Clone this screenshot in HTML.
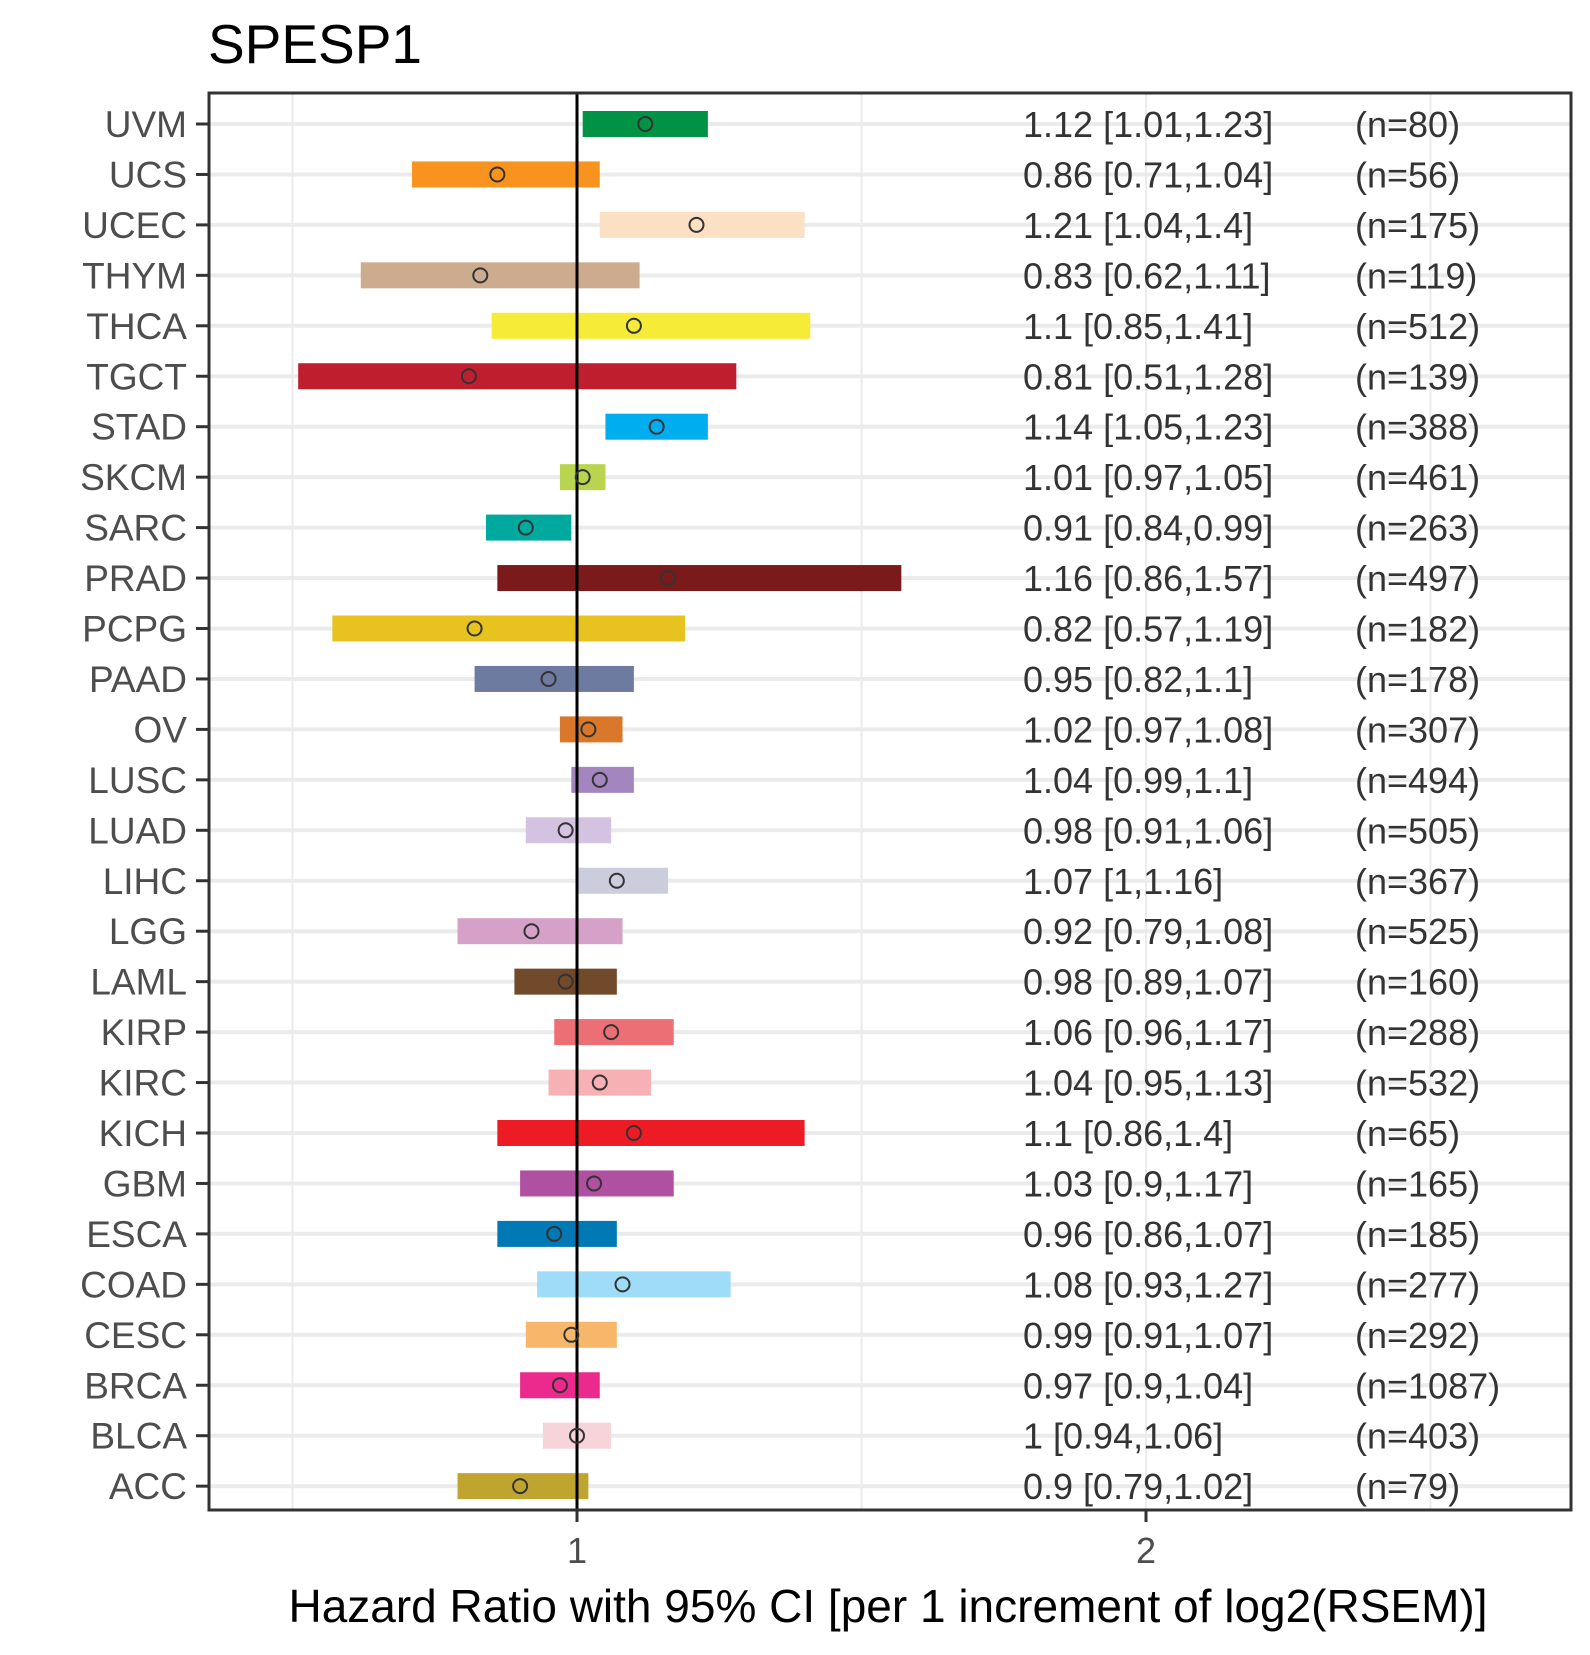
<!DOCTYPE html>
<html><head><meta charset="utf-8"><style>
body{margin:0;background:#fff;}
svg text{font-family:"Liberation Sans",Arial,sans-serif;}
</style></head><body>
<svg id="chart" width="1590" height="1650" viewBox="0 0 1590 1650" xmlns="http://www.w3.org/2000/svg">
<text x="208" y="63" font-size="55" fill="#000">SPESP1</text>
<g id="plot"></g>
<text x="888" y="1622" font-size="46" fill="#000" text-anchor="middle">Hazard Ratio with 95% CI [per 1 increment of log2(RSEM)]</text>
</svg>
<script>
const cancers=["UVM","UCS","UCEC","THYM","THCA","TGCT","STAD","SKCM","SARC","PRAD","PCPG","PAAD","OV","LUSC","LUAD","LIHC","LGG","LAML","KIRP","KIRC","KICH","GBM","ESCA","COAD","CESC","BRCA","BLCA","ACC"];
const hr=[1.12,0.86,1.21,0.83,1.1,0.81,1.14,1.01,0.91,1.16,0.82,0.95,1.02,1.04,0.98,1.07,0.92,0.98,1.06,1.04,1.1,1.03,0.96,1.08,0.99,0.97,1,0.9];
const lo=[1.01,0.71,1.04,0.62,0.85,0.51,1.05,0.97,0.84,0.86,0.57,0.82,0.97,0.99,0.91,1,0.79,0.89,0.96,0.95,0.86,0.9,0.86,0.93,0.91,0.9,0.94,0.79];
const hi=[1.23,1.04,1.4,1.11,1.41,1.28,1.23,1.05,0.99,1.57,1.19,1.1,1.08,1.1,1.06,1.16,1.08,1.07,1.17,1.13,1.4,1.17,1.07,1.27,1.07,1.04,1.06,1.02];
const ns=[80,56,175,119,512,139,388,461,263,497,182,178,307,494,505,367,525,160,288,532,65,165,185,277,292,1087,403,79];
const colors=["#009245","#F7931E","#FBE0C3","#CDAB8F","#F6EB36","#BE1E2D","#00AEEF","#B9D44F","#00A99D","#7B1A1A","#E6C31E","#6E7BA0","#D9782A","#A386BF","#D3C3E0","#CBCCDC","#D6A1C9","#704A2A","#EB6F75","#F7B0B3","#ED1C24","#B050A0","#0079B5","#9EDCF7","#F7B76A","#EC2A8E","#F7D3DA","#BFA430"];
const xTicks=[1,2];
const grid=[0.5,1,1.5,2,2.5];
const L=209,R=1571,T=93,B=1510;
const xs=v=>577+(v-1)*569;
const ys=i=>124+i*50.45;
const NS="http://www.w3.org/2000/svg";
const g=document.getElementById('plot');
function mk(t,a,p){const e=document.createElementNS(NS,t);for(const k in a)e.setAttribute(k,a[k]);(p||g).appendChild(e);return e;}
grid.forEach(v=>{const e=mk('line',{x1:xs(v),x2:xs(v),y1:T,y2:B,stroke:'#ebebeb','stroke-width':2});

});
cancers.forEach((c,i)=>{const e=mk('line',{x1:L,x2:R,y1:ys(i),y2:ys(i),stroke:'#ebebeb','stroke-width':4});

});
cancers.forEach((c,i)=>{
const b=mk('rect',{x:xs(lo[i]),y:ys(i)-13,width:xs(hi[i])-xs(lo[i]),height:26,fill:colors[i]});


});
const vl=mk('line',{x1:xs(1),x2:xs(1),y1:T,y2:B,stroke:'#000','stroke-width':3});


cancers.forEach((c,i)=>{
const p=mk('circle',{cx:xs(hr[i]),cy:ys(i),r:7,fill:'none',stroke:'#333','stroke-width':2});


const t=mk('text',{x:1023,y:ys(i)+13,'font-size':36,fill:'#333'});t.textContent=hr[i]+' ['+lo[i]+','+hi[i]+']';


const n=mk('text',{x:1355,y:ys(i)+13,'font-size':36,fill:'#333'});n.textContent='(n='+ns[i]+')';


const lb=mk('text',{x:187,y:ys(i)+13,'font-size':37,fill:'#4d4d4d','text-anchor':'end'});lb.textContent=c;


const tk=mk('line',{x1:196,x2:209,y1:ys(i),y2:ys(i),stroke:'#333','stroke-width':3});


});
xTicks.forEach(v=>{
const tk=mk('line',{x1:xs(v),x2:xs(v),y1:B,y2:B+12,stroke:'#333','stroke-width':3});


const t=mk('text',{x:xs(v),y:B+53,'font-size':36,fill:'#4d4d4d','text-anchor':'middle'});t.textContent=v;


});
const fr=mk('rect',{x:L,y:T,width:R-L,height:B-T,fill:'none',stroke:'#333','stroke-width':3});


</script>
</body></html>
